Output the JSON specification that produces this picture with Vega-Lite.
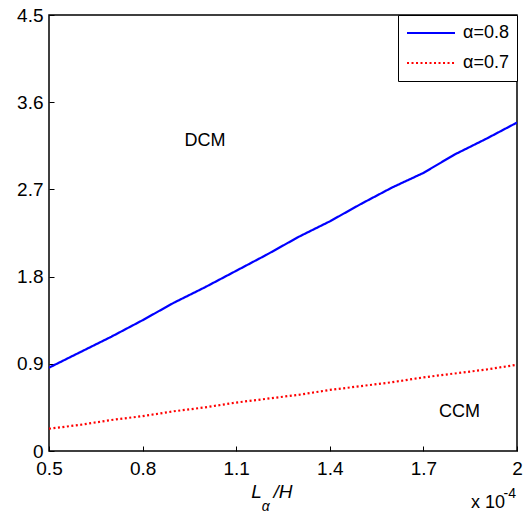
{
  "$schema": "https://vega.github.io/schema/vega-lite/v6.json",
  "width": 468,
  "height": 436,
  "autosize": "none",
  "padding": {"left": 49, "top": 15, "right": 14, "bottom": 63},
  "background": "white",
  "config": {
    "font": "Liberation Sans",
    "view": {"stroke": "black", "strokeWidth": 1.5}
  },
  "datasets": {
    "curves": [
      {"x": 0.5, "y": 0.86, "series": "α=0.8"},
      {"x": 0.6, "y": 1.02, "series": "α=0.8"},
      {"x": 0.7, "y": 1.18, "series": "α=0.8"},
      {"x": 0.8, "y": 1.35, "series": "α=0.8"},
      {"x": 0.9, "y": 1.53, "series": "α=0.8"},
      {"x": 1.0, "y": 1.69, "series": "α=0.8"},
      {"x": 1.1, "y": 1.86, "series": "α=0.8"},
      {"x": 1.2, "y": 2.03, "series": "α=0.8"},
      {"x": 1.3, "y": 2.21, "series": "α=0.8"},
      {"x": 1.4, "y": 2.37, "series": "α=0.8"},
      {"x": 1.5, "y": 2.55, "series": "α=0.8"},
      {"x": 1.6, "y": 2.72, "series": "α=0.8"},
      {"x": 1.7, "y": 2.87, "series": "α=0.8"},
      {"x": 1.8, "y": 3.06, "series": "α=0.8"},
      {"x": 1.9, "y": 3.22, "series": "α=0.8"},
      {"x": 2.0, "y": 3.39, "series": "α=0.8"},
      {"x": 0.5, "y": 0.23, "series": "α=0.7"},
      {"x": 0.6, "y": 0.27, "series": "α=0.7"},
      {"x": 0.7, "y": 0.32, "series": "α=0.7"},
      {"x": 0.8, "y": 0.36, "series": "α=0.7"},
      {"x": 0.9, "y": 0.41, "series": "α=0.7"},
      {"x": 1.0, "y": 0.45, "series": "α=0.7"},
      {"x": 1.1, "y": 0.50, "series": "α=0.7"},
      {"x": 1.2, "y": 0.54, "series": "α=0.7"},
      {"x": 1.3, "y": 0.58, "series": "α=0.7"},
      {"x": 1.4, "y": 0.63, "series": "α=0.7"},
      {"x": 1.5, "y": 0.67, "series": "α=0.7"},
      {"x": 1.6, "y": 0.71, "series": "α=0.7"},
      {"x": 1.7, "y": 0.76, "series": "α=0.7"},
      {"x": 1.8, "y": 0.80, "series": "α=0.7"},
      {"x": 1.9, "y": 0.84, "series": "α=0.7"},
      {"x": 2.0, "y": 0.89, "series": "α=0.7"}
    ],
    "labels": [
      {"x": 1.0, "y": 3.2, "label": "DCM"},
      {"x": 1.816, "y": 0.405, "label": "CCM"}
    ],
    "one": [{}]
  },
  "layer": [
    {
      "data": {"name": "curves"},
      "mark": {"type": "line", "strokeWidth": 2.2, "clip": true},
      "encoding": {
        "x": {"field": "x", "type": "quantitative", "scale": {"domain": [0.5, 2], "nice": false, "zero": false},
              "axis": {"values": [0.5, 0.8, 1.1, 1.4, 1.7, 2], "title": null, "grid": false, "domain": false, "tickColor": "black", "tickSize": -5, "labelColor": "black", "labelFont": "Liberation Sans", "labelFontSize": 19, "labelPadding": 13, "labelFlush": false, "labelExpr": "datum.value == 2 ? '2' : format(datum.value, '.1f')"}},
        "y": {"field": "y", "type": "quantitative", "scale": {"domain": [0, 4.5], "nice": false},
              "axis": {"values": [0, 0.9, 1.8, 2.7, 3.6, 4.5], "title": null, "grid": false, "domain": false, "tickColor": "black", "tickSize": -5, "labelColor": "black", "labelFont": "Liberation Sans", "labelFontSize": 19, "labelPadding": 11, "labelFlush": false, "labelExpr": "datum.value == 0 ? '0' : format(datum.value, '.1f')"}},
        "color": {"field": "series", "type": "nominal",
                  "scale": {"domain": ["α=0.8", "α=0.7"], "range": ["#0000ff", "#ff0000"]},
                  "legend": {"orient": "top-right", "offset": 0, "title": null, "symbolType": "stroke", "symbolSize": 2300, "symbolStrokeWidth": 2, "clipHeight": 20,
                             "labelFontSize": 18, "labelColor": "black", "labelFont": "Liberation Sans", "labelOffset": 7,
                             "strokeColor": "black", "fillColor": "white", "padding": 8, "rowPadding": 10, "symbolOffset": 0}},
        "strokeDash": {"field": "series", "type": "nominal",
                       "scale": {"domain": ["α=0.8", "α=0.7"], "range": [[1, 0], [2, 2.5]]},
                       "legend": null}
      }
    },
    {
      "data": {"name": "labels"},
      "mark": {"type": "text", "fontSize": 18, "font": "Liberation Sans", "color": "black"},
      "encoding": {
        "x": {"field": "x", "type": "quantitative"},
        "y": {"field": "y", "type": "quantitative"},
        "text": {"field": "label"}
      }
    },
    {
      "data": {"name": "one"},
      "mark": {"type": "text", "text": "L", "fontSize": 19, "fontStyle": "italic", "font": "Liberation Sans", "color": "black", "dy": 41, "clip": false, "align": "center"},
      "encoding": {"x": {"datum": 1.165}, "y": {"datum": 0}}
    },
    {
      "data": {"name": "one"},
      "mark": {"type": "text", "text": "α", "fontSize": 14, "fontStyle": "italic", "font": "Liberation Sans", "color": "black", "dy": 56, "clip": false, "align": "center"},
      "encoding": {"x": {"datum": 1.195}, "y": {"datum": 0}}
    },
    {
      "data": {"name": "one"},
      "mark": {"type": "text", "text": "/H", "fontSize": 19, "fontStyle": "italic", "font": "Liberation Sans", "color": "black", "dy": 41, "clip": false, "align": "center"},
      "encoding": {"x": {"datum": 1.25}, "y": {"datum": 0}}
    },
    {
      "data": {"name": "one"},
      "mark": {"type": "text", "text": "x 10", "fontSize": 18, "font": "Liberation Sans", "color": "black", "dy": 52, "dx": -12, "clip": false, "align": "right"},
      "encoding": {"x": {"datum": 2}, "y": {"datum": 0}}
    },
    {
      "data": {"name": "one"},
      "mark": {"type": "text", "text": "-4", "fontSize": 14, "font": "Liberation Sans", "color": "black", "dy": 43, "dx": -1, "clip": false, "align": "right"},
      "encoding": {"x": {"datum": 2}, "y": {"datum": 0}}
    }
  ]
}
